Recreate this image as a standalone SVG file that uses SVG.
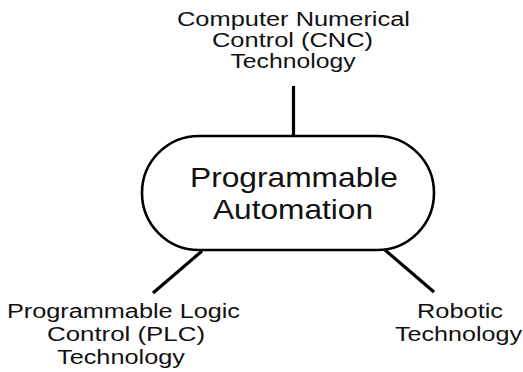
<svg xmlns="http://www.w3.org/2000/svg" width="523" height="372" viewBox="0 0 523 372">
<style>
text{font-family:"Liberation Sans",Arial,sans-serif;fill:#111;text-anchor:middle}
.s{font-size:20px}
.b{font-size:27.5px}
.c{stroke:#000;stroke-width:3.2;fill:none;stroke-linecap:butt}
.shape{fill:#fff;stroke:#000;stroke-width:2.6}
</style>
<rect width="523" height="372" fill="#fff"/>
<g id="connectors">
<line class="c" x1="293.5" y1="86" x2="293.5" y2="137"/>
<line class="c" x1="202" y1="251" x2="153" y2="293"/>
<line class="c" x1="385" y1="250" x2="434" y2="292"/>
</g>
<g id="center">
<rect class="shape" x="142" y="136" width="292" height="114" rx="57" ry="57"/>
<text class="b" x="294" y="187" textLength="208" lengthAdjust="spacingAndGlyphs">Programmable</text>
<text class="b" x="293" y="219" textLength="160" lengthAdjust="spacingAndGlyphs">Automation</text>
</g>
<g id="cnc">
<text class="s" x="293.5" y="26" textLength="233" lengthAdjust="spacingAndGlyphs">Computer Numerical</text>
<text class="s" x="292.5" y="47" textLength="161" lengthAdjust="spacingAndGlyphs">Control (CNC)</text>
<text class="s" x="293" y="68" textLength="125" lengthAdjust="spacingAndGlyphs">Technology</text>
</g>
<g id="plc">
<text class="s" x="123.5" y="318" textLength="233" lengthAdjust="spacingAndGlyphs">Programmable Logic</text>
<text class="s" x="126" y="341" textLength="158" lengthAdjust="spacingAndGlyphs">Control (PLC)</text>
<text class="s" x="121" y="364" textLength="128" lengthAdjust="spacingAndGlyphs">Technology</text>
</g>
<g id="robotic">
<text class="s" x="460" y="318" textLength="86" lengthAdjust="spacingAndGlyphs">Robotic</text>
<text class="s" x="458.5" y="341" textLength="127" lengthAdjust="spacingAndGlyphs">Technology</text>
</g>
</svg>
